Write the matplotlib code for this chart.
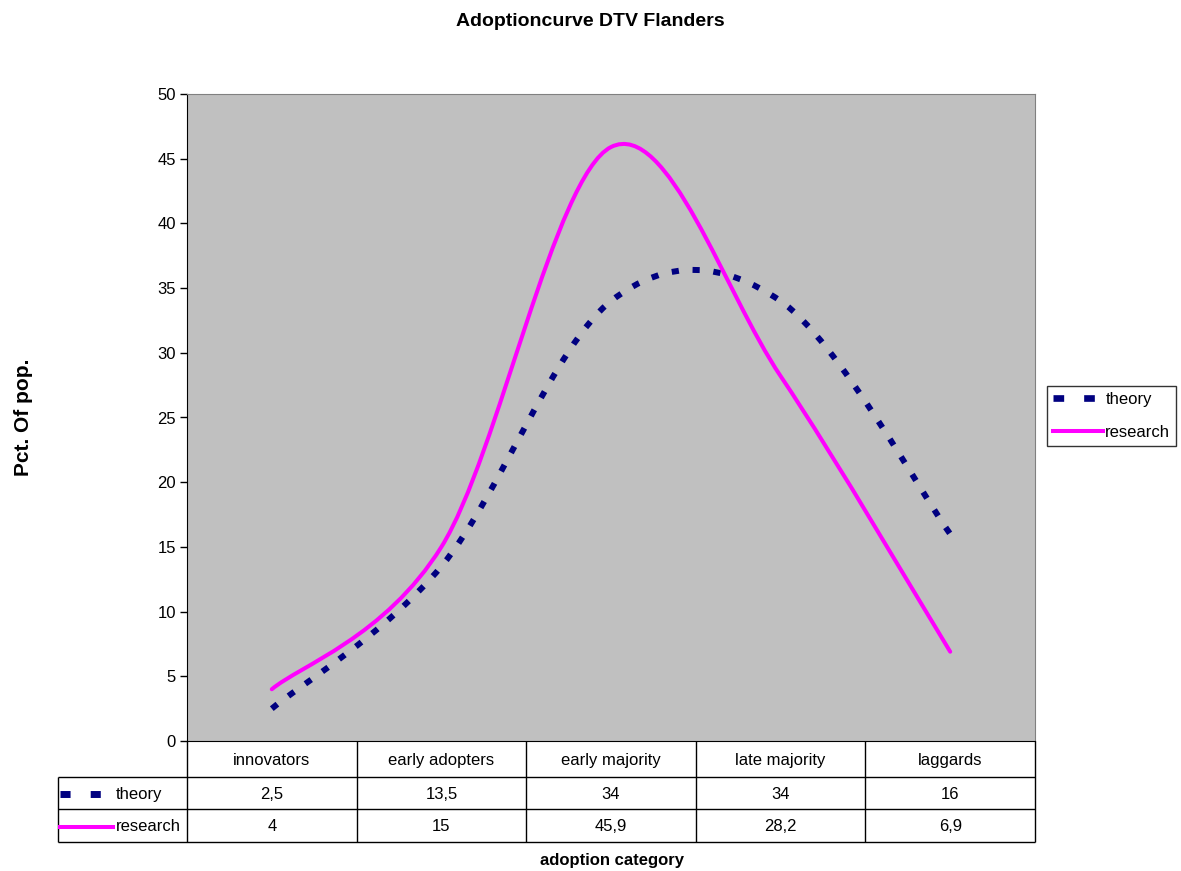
import numpy as np
import matplotlib
matplotlib.use('Agg')
import matplotlib.pyplot as plt
from matplotlib.path import Path
from matplotlib.patches import PathPatch
from matplotlib.lines import Line2D

plt.rcParams['font.family'] = ['Liberation Sans', 'DejaVu Sans']

categories = ['innovators', 'early adopters', 'early majority', 'late majority', 'laggards']
theory = [2.5, 13.5, 34, 34, 16]
research = [4, 15, 45.9, 28.2, 6.9]
series_names = ['theory', 'research']

W, H = 1181, 871
NAVY = '#000080'
MAGENTA = '#FF00FF'


def smooth_path(xs, ys):
    # Excel-like smoothed line: cubic Bezier through the points (Catmull-Rom, tension 1/6)
    pts = np.column_stack([xs, ys]).astype(float)
    n = len(pts)
    verts = [pts[0]]
    codes = [Path.MOVETO]
    for i in range(n - 1):
        p0 = pts[max(i - 1, 0)]
        p1 = pts[i]
        p2 = pts[i + 1]
        p3 = pts[min(i + 2, n - 1)]
        verts += [p1 + (p2 - p0) / 6, p2 - (p3 - p1) / 6, p2]
        codes += [Path.CURVE4] * 3
    return Path(verts, codes)


fig = plt.figure(figsize=(W / 100, H / 100), dpi=100)
ax = fig.add_axes([187 / W, 1 - 741 / H, (1035 - 187) / W, (741 - 94) / H])
ax.set_facecolor('#C0C0C0')

x = np.arange(len(categories)) + 0.5
p_theory = PathPatch(smooth_path(x, theory), facecolor='none', edgecolor=NAVY,
                     linewidth=4.3, linestyle=(0, (1.2, 2.3)), capstyle='butt')
p_research = PathPatch(smooth_path(x, research), facecolor='none', edgecolor=MAGENTA,
                       linewidth=2.9, capstyle='round')
ax.add_patch(p_theory)
ax.add_patch(p_research)

ax.set_xlim(0, len(categories))
ax.set_ylim(0, 50)
ax.set_yticks(np.arange(0, 51, 5))
ax.set_xticks([])
ax.tick_params(axis='y', direction='out', length=5, width=1, labelsize=12, pad=3)
for s in ['top', 'right']:
    ax.spines[s].set_color('#808080')
ax.spines['left'].set_color('black')
ax.spines['bottom'].set_color('black')

ax.set_ylabel('Pct. Of pop.', fontsize=15, fontweight='bold')
ax.yaxis.set_label_coords((33 - 187) / (1035 - 187), 0.5)
fig.text(0.5, 1 - 21 / H, 'Adoptioncurve DTV Flanders', ha='center', va='center',
         fontsize=14, fontweight='bold')
fig.text(612 / W, 1 - 860 / H, 'adoption category', ha='center', va='center',
         fontsize=12, fontweight='bold')

# legend on the right
h_theory = Line2D([], [], color=NAVY, linewidth=4.8, linestyle=(0, (1.6, 3.0)),
                  solid_capstyle='butt', dash_capstyle='butt')
h_research = Line2D([], [], color=MAGENTA, linewidth=2.9)
leg = fig.legend([h_theory, h_research], series_names, loc='center left',
                 bbox_to_anchor=(1047 / W, 1 - 416 / H), bbox_transform=fig.transFigure,
                 fontsize=12, frameon=True, fancybox=False, handlelength=3.0,
                 handletextpad=0.15, borderpad=0.35, labelspacing=1.1, borderaxespad=0)
leg.get_frame().set_edgecolor('black')
leg.get_frame().set_linewidth(1)

# data table below the axis (y in pixel rows: header 741-777, theory 777-809, research 809-842)
tax = fig.add_axes([187 / W, 1 - 842 / H, (1035 - 187) / W, (842 - 741) / H])
tax.set_xlim(0, len(categories))
tax.set_ylim(842, 741)
tax.axis('off')
rows = [741, 777, 809, 842]
cw = (1035 - 187) / len(categories)
lc = (187 - 58) / cw
tax.hlines(rows[1:], -lc, len(categories), color='black', lw=1, clip_on=False)
tax.vlines(np.arange(len(categories) + 1), rows[0], rows[3], color='black', lw=1, clip_on=False)
tax.vlines(-lc, rows[1], rows[3], color='black', lw=1, clip_on=False)

row_mid = [(rows[i] + rows[i + 1]) / 2 + 1 for i in range(3)]
for i, c in enumerate(categories):
    tax.text(i + 0.5, row_mid[0], c, ha='center', va='center', fontsize=12)
for row, vals in zip(row_mid[1:], [theory, research]):
    for i, v in enumerate(vals):
        tax.text(i + 0.5, row, f'{v:g}'.replace('.', ','), ha='center', va='center', fontsize=12)

hx0 = (60 - 187) / cw
tax.add_line(Line2D([hx0, hx0 + 41 / cw], [row_mid[1], row_mid[1]], color=NAVY, linewidth=5,
                    linestyle=(0, (1.45, 2.9)), dash_capstyle='butt', clip_on=False))
tax.add_line(Line2D([hx0, (113 - 187) / cw], [row_mid[2], row_mid[2]], color=MAGENTA,
                    linewidth=2.9, clip_on=False))
tx = (116 - 187) / cw
tax.text(tx, row_mid[1], series_names[0], ha='left', va='center', fontsize=12)
tax.text(tx, row_mid[2], series_names[1], ha='left', va='center', fontsize=12)

fig.savefig('out.png', dpi=100)
